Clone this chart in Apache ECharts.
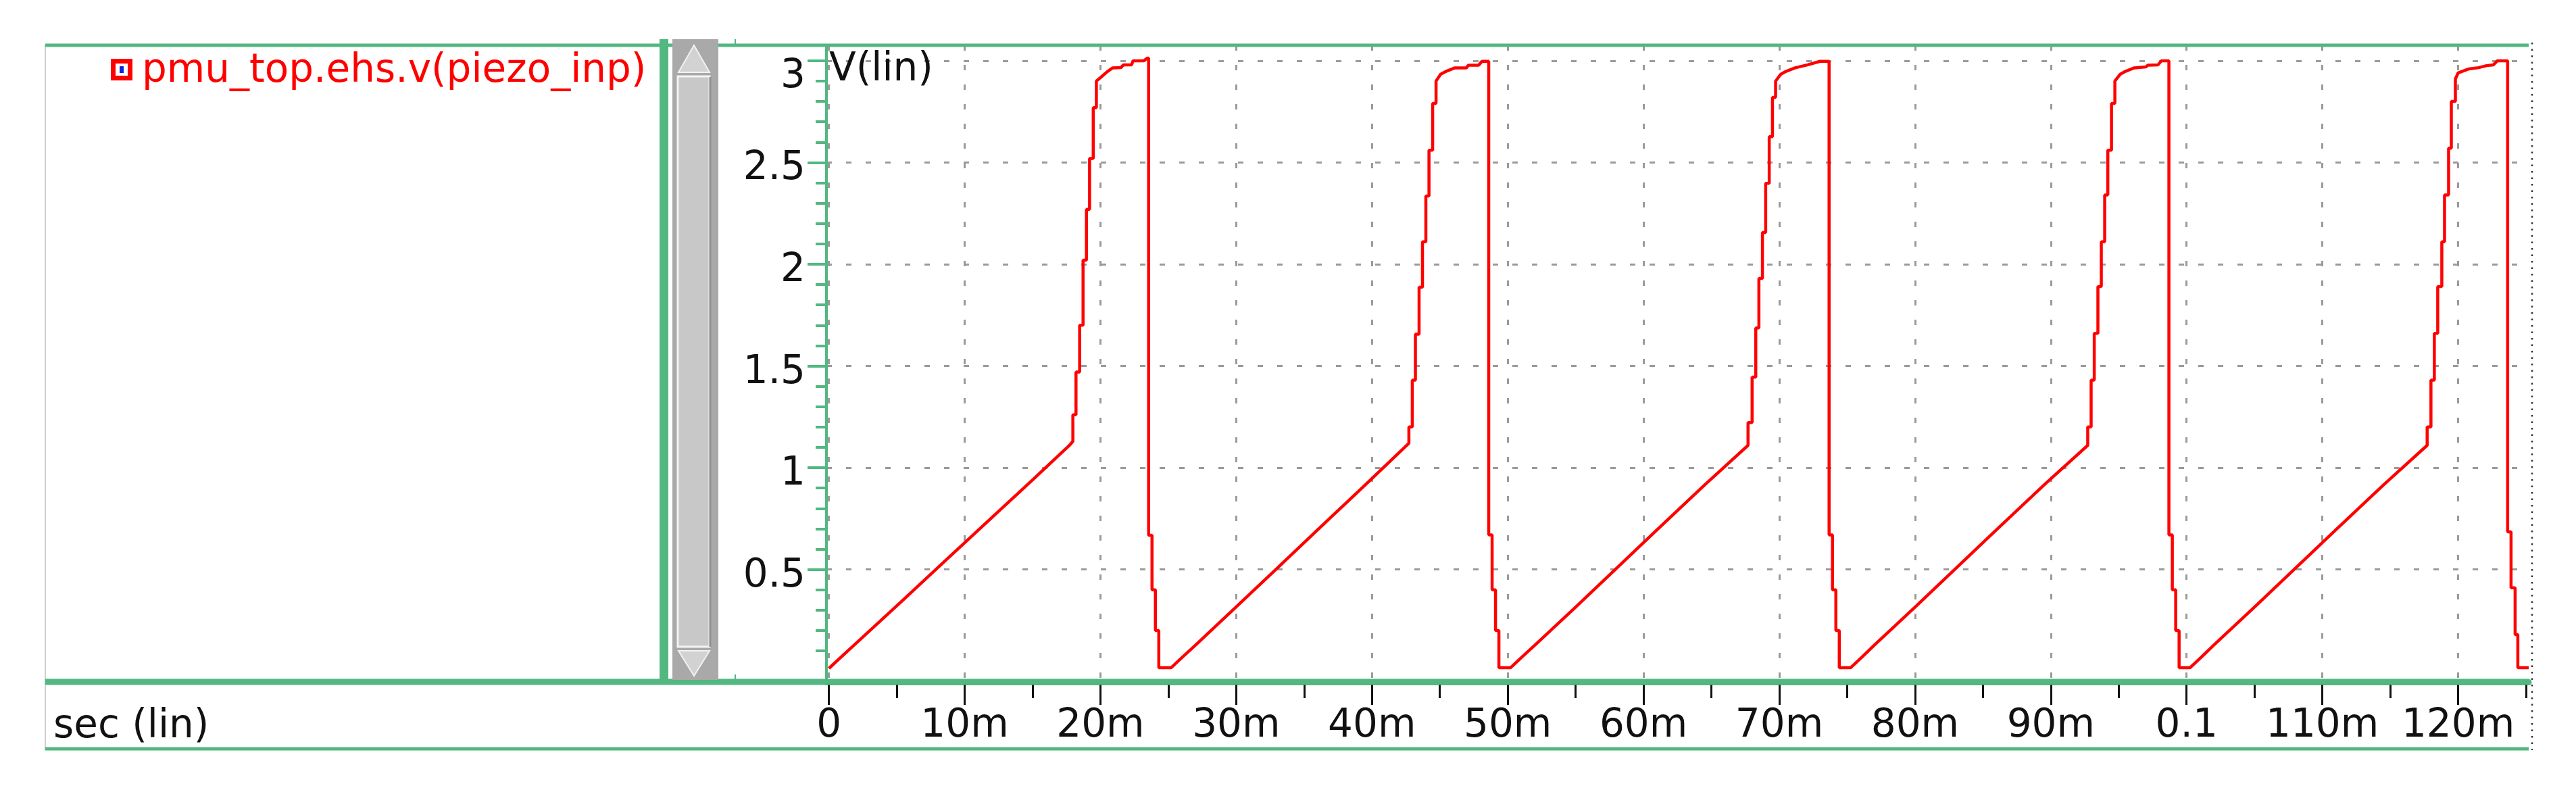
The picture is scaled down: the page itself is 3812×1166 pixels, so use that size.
<!DOCTYPE html>
<html>
<head>
<meta charset="utf-8">
<title>pmu_top.ehs.v(piezo_inp)</title>
<script src="https://cdn.jsdelivr.net/npm/echarts@6.0.0/dist/echarts.min.js"></script>
<style>
  html, body { margin: 0; padding: 0; background: #fff; }
  #chart { width: 3812px; height: 1166px; }
</style>
</head>
<body>
<div id="chart"></div>
<script>
// time in ms, voltage in V (one array per sawtooth cycle)
var cycle1 = [[0, 0.014], [1.2, 0.088], [2.0, 0.137], [4.0, 0.26], [5.3, 0.34], [8.6, 0.545], [12.0, 0.755], [15.0, 0.94], [17.72, 1.11],
  [17.97, 1.13], [17.97, 1.26], [18.2, 1.26], [18.2, 1.47], [18.47, 1.47], [18.47, 1.70], [18.72, 1.70], [18.72, 2.02], [18.97, 2.02],
  [18.97, 2.27], [19.2, 2.27], [19.2, 2.52], [19.47, 2.52], [19.47, 2.77], [19.7, 2.77], [19.7, 2.9],
  [20.05, 2.92], [20.5, 2.946], [20.9, 2.965], [21.5, 2.966], [21.7, 2.98], [22.3, 2.98], [22.4, 3.0], [23.2, 3.0], [23.45, 3.013], [23.55, 3.013],
  [23.55, 0.668], [23.8, 0.668], [23.8, 0.4], [24.05, 0.4], [24.05, 0.2], [24.3, 0.2], [24.3, 0.017], [25.2, 0.017]];
var cycle2 = [[26.05, 0.07], [27.0, 0.128], [29.9, 0.31], [33.0, 0.505], [36.0, 0.695], [39.5, 0.915], [42.72, 1.12],
  [42.72, 1.2], [42.97, 1.2], [42.97, 1.43], [43.2, 1.43], [43.2, 1.656], [43.47, 1.656], [43.47, 1.887], [43.72, 1.887], [43.72, 2.11],
  [43.97, 2.11], [43.97, 2.335], [44.2, 2.335], [44.2, 2.56], [44.47, 2.56], [44.47, 2.79], [44.72, 2.79], [44.72, 2.9],
  [45.05, 2.933], [45.46, 2.948], [46.1, 2.965], [46.96, 2.965], [47.1, 2.978], [47.86, 2.978], [48.1, 2.997], [48.6, 2.997],
  [48.6, 0.67], [48.85, 0.67], [48.85, 0.4], [49.1, 0.4], [49.1, 0.2], [49.35, 0.2], [49.35, 0.017], [50.2, 0.017]];
var cycle3 = [[51.05, 0.07], [52.0, 0.128], [55.0, 0.315], [58.0, 0.505], [61.0, 0.695], [64.5, 0.915], [67.7, 1.11],
  [67.7, 1.222], [68.0, 1.222], [68.0, 1.445], [68.27, 1.445], [68.27, 1.687], [68.5, 1.687], [68.5, 1.93], [68.76, 1.93], [68.76, 2.156],
  [69.0, 2.156], [69.0, 2.398], [69.26, 2.398], [69.26, 2.627], [69.5, 2.627], [69.5, 2.82], [69.73, 2.82], [69.73, 2.9],
  [70.1, 2.933], [70.5, 2.948], [71.17, 2.965], [72.1, 2.98], [73.0, 2.997], [73.67, 2.997],
  [73.67, 0.67], [73.92, 0.67], [73.92, 0.4], [74.17, 0.4], [74.17, 0.2], [74.42, 0.2], [74.42, 0.017], [75.25, 0.017]];
var cycle4 = [[76.1, 0.07], [77.0, 0.128], [80.0, 0.315], [83.0, 0.505], [86.0, 0.695], [89.5, 0.915], [92.72, 1.11],
  [92.72, 1.2], [92.97, 1.2], [92.97, 1.43], [93.2, 1.43], [93.2, 1.66], [93.47, 1.66], [93.47, 1.89], [93.72, 1.89], [93.72, 2.11],
  [93.97, 2.11], [93.97, 2.34], [94.2, 2.34], [94.2, 2.56], [94.47, 2.56], [94.47, 2.79], [94.72, 2.79], [94.72, 2.9],
  [95.1, 2.933], [95.5, 2.948], [96.15, 2.965], [97.0, 2.97], [97.15, 2.978], [97.9, 2.98], [98.15, 3.0], [98.7, 3.0],
  [98.7, 0.67], [98.95, 0.67], [98.95, 0.4], [99.2, 0.4], [99.2, 0.2], [99.45, 0.2], [99.45, 0.017], [100.25, 0.017]];
var cycle5 = [[101.1, 0.07], [102.0, 0.128], [105.0, 0.315], [108.0, 0.505], [111.0, 0.695], [114.5, 0.915], [117.72, 1.11],
  [117.72, 1.2], [118.0, 1.2], [118.0, 1.43], [118.25, 1.43], [118.25, 1.66], [118.5, 1.66], [118.5, 1.89], [118.8, 1.89], [118.8, 2.11],
  [119.0, 2.11], [119.0, 2.34], [119.3, 2.34], [119.3, 2.57], [119.5, 2.57], [119.5, 2.8], [119.8, 2.8], [119.8, 2.91],
  [120.0, 2.94], [120.8, 2.96], [121.5, 2.966], [122.1, 2.976], [122.6, 2.98], [122.9, 3.0], [123.65, 3.0],
  [123.65, 0.685], [123.9, 0.685], [123.9, 0.41], [124.2, 0.41], [124.2, 0.18], [124.4, 0.18], [124.4, 0.017], [125.2, 0.017]];

var timeTicks = [0, 10, 20, 30, 40, 50, 60, 70, 80, 90, 100, 110, 120];
var timeLabels = ['0', '10m', '20m', '30m', '40m', '50m', '60m', '70m', '80m', '90m', '0.1', '110m', '120m'];
var timeMinorTicks = [5, 15, 25, 35, 45, 55, 65, 75, 85, 95, 105, 115, 125];
var voltTicks = [0.5, 1, 1.5, 2, 2.5, 3];
var voltLabels = ['0.5', '1', '1.5', '2', '2.5', '3'];
var voltMinorTicks = [0.1, 0.2, 0.3, 0.4, 0.6, 0.7, 0.8, 0.9, 1.1, 1.2, 1.3, 1.4, 1.6, 1.7, 1.8, 1.9,
  2.1, 2.2, 2.3, 2.4, 2.6, 2.7, 2.8, 2.9];

var GREEN = '#52b780';
var FONT = '"DejaVu Sans", Verdana, sans-serif';

var chart = echarts.init(document.getElementById('chart'), null, { renderer: 'canvas' });

function timeLabel(v) {
  var i = timeTicks.indexOf(Math.round(v));
  return i >= 0 ? timeLabels[i] : '';
}
function voltLabel(v) {
  var i = voltTicks.indexOf(Math.round(v * 10) / 10);
  return i >= 0 ? voltLabels[i] : '';
}

var trace = cycle1.concat(cycle2, cycle3, cycle4, cycle5);

var option = {
  animation: false,
  backgroundColor: '#ffffff',
  grid: { left: 1223, right: 70, top: 67, bottom: 157, containLabel: false },
  xAxis: [
    {
      type: 'value', min: -0.18, max: 125.2,
      axisLine: { show: true, onZero: false, lineStyle: { color: GREEN, width: 9 } },
      axisTick: { show: true, length: 34, customValues: timeTicks, lineStyle: { color: '#111', width: 3 } },
      axisLabel: {
        customValues: timeTicks, formatter: timeLabel, margin: 37,
        fontSize: 58, fontFamily: FONT, color: '#111'
      },
      splitLine: { show: true, lineStyle: { color: '#9a9a9a', width: 3, type: [8, 21] } }
    },
    {
      type: 'value', min: -0.18, max: 125.2, position: 'bottom',
      axisLine: { show: false, onZero: false },
      axisTick: { show: true, length: 24, customValues: timeMinorTicks, lineStyle: { color: '#111', width: 3 } },
      axisLabel: { show: false },
      splitLine: { show: false }
    }
  ],
  yAxis: [
    {
      type: 'value', min: -0.0525, max: 3.076,
      axisLine: { show: true, onZero: false, lineStyle: { color: GREEN, width: 4 } },
      axisTick: { show: true, length: 28, customValues: voltTicks, lineStyle: { color: GREEN, width: 4 } },
      axisLabel: {
        customValues: [0.5, 1, 1.5, 2, 2.5], formatter: voltLabel, margin: 31,
        verticalAlign: 'top', lineHeight: 20,
        fontSize: 58, fontFamily: FONT, color: '#111'
      },
      splitLine: { show: true, lineStyle: { color: '#9a9a9a', width: 3, type: [8, 21] } }
    },
    {
      // minor ticks, and the top label which sits below its tick
      type: 'value', min: -0.0525, max: 3.076, position: 'left',
      axisLine: { show: false, onZero: false },
      axisTick: { show: true, length: 16, customValues: voltMinorTicks, lineStyle: { color: GREEN, width: 4 } },
      axisLabel: {
        customValues: [3], formatter: voltLabel, margin: 31,
        verticalAlign: 'top', lineHeight: 48,
        fontSize: 58, fontFamily: FONT, color: '#111'
      },
      splitLine: { show: false }
    }
  ],
  series: [
    {
      name: 'pmu_top.ehs.v(piezo_inp)',
      type: 'line',
      data: trace,
      showSymbol: false,
      clip: true,
      lineStyle: { color: '#ff0000', width: 4.5 },
      z: 3
    }
  ],
  graphic: [
    // left panel border
    { type: 'line', shape: { x1: 67, y1: 66, x2: 67, y2: 1110 }, style: { stroke: '#d0d0d0', lineWidth: 2 }, z: 5 },
    // top, axis and bottom rules
    { type: 'line', shape: { x1: 67, y1: 67, x2: 3742, y2: 67 }, style: { stroke: GREEN, lineWidth: 5 }, z: 5 },
    { type: 'line', shape: { x1: 67, y1: 1009, x2: 3742, y2: 1009 }, style: { stroke: GREEN, lineWidth: 9 }, z: 5 },
    { type: 'line', shape: { x1: 67, y1: 1108, x2: 3742, y2: 1108 }, style: { stroke: GREEN, lineWidth: 5 }, z: 5 },
    { type: 'line', shape: { x1: 1088, y1: 58, x2: 1088, y2: 67 }, style: { stroke: GREEN, lineWidth: 2 }, z: 5 },
    { type: 'line', shape: { x1: 1088, y1: 998, x2: 1088, y2: 1009 }, style: { stroke: GREEN, lineWidth: 2 }, z: 5 },
    // splitter bar
    { type: 'rect', shape: { x: 976, y: 58, width: 13, height: 952 }, style: { fill: GREEN }, z: 6 },
    // scrollbar
    { type: 'rect', shape: { x: 995, y: 58, width: 68, height: 948 }, style: { fill: '#a9a9a9' }, z: 6 },
    { type: 'polygon', shape: { points: [[1027, 67], [1004, 107], [1050, 107]] }, style: { fill: '#d2d2d2', stroke: '#f2f2f2', lineWidth: 2 }, z: 7 },
    { type: 'rect', shape: { x: 1003, y: 113, width: 47, height: 844 }, style: { fill: '#c8c8c8', stroke: '#f4f4f4', lineWidth: 3 }, z: 7 },
    { type: 'line', shape: { x1: 1051, y1: 114, x2: 1051, y2: 957 }, style: { stroke: '#8f8f8f', lineWidth: 3 }, z: 8 },
    { type: 'polygon', shape: { points: [[1004, 963], [1050, 963], [1027, 1000]] }, style: { fill: '#d2d2d2', stroke: '#f2f2f2', lineWidth: 2 }, z: 7 },
    // cursor line at the right edge
    { type: 'line', shape: { x1: 3747, y1: 63, x2: 3747, y2: 1110 }, style: { stroke: '#333', lineWidth: 2.5, lineDash: [2.5, 7] }, z: 5 },
    // legend entry
    { type: 'rect', shape: { x: 164, y: 87, width: 32, height: 32 }, style: { fill: '#ff0000' }, z: 6 },
    { type: 'rect', shape: { x: 171, y: 94, width: 18, height: 18 }, style: { fill: '#ffffff' }, z: 7 },
    { type: 'rect', shape: { x: 177, y: 98, width: 6, height: 10 }, style: { fill: '#1020e0' }, z: 8 },
    { type: 'text', x: 210, y: 106, style: { text: 'pmu_top.ehs.v(piezo_inp)', fill: '#ff0000', font: '58px ' + FONT, verticalAlign: 'middle' }, z: 6 },
    // axis titles
    { type: 'text', x: 1227, y: 104, style: { text: 'V(lin)', fill: '#111', font: '58px ' + FONT, verticalAlign: 'middle' }, z: 6 },
    { type: 'text', x: 79, y: 1076, style: { text: 'sec (lin)', fill: '#111', font: '58px ' + FONT, verticalAlign: 'middle' }, z: 6 }
  ]
};

chart.setOption(option);
window.addEventListener('resize', function () {
  chart.resize();
});
</script>
</body>
</html>
